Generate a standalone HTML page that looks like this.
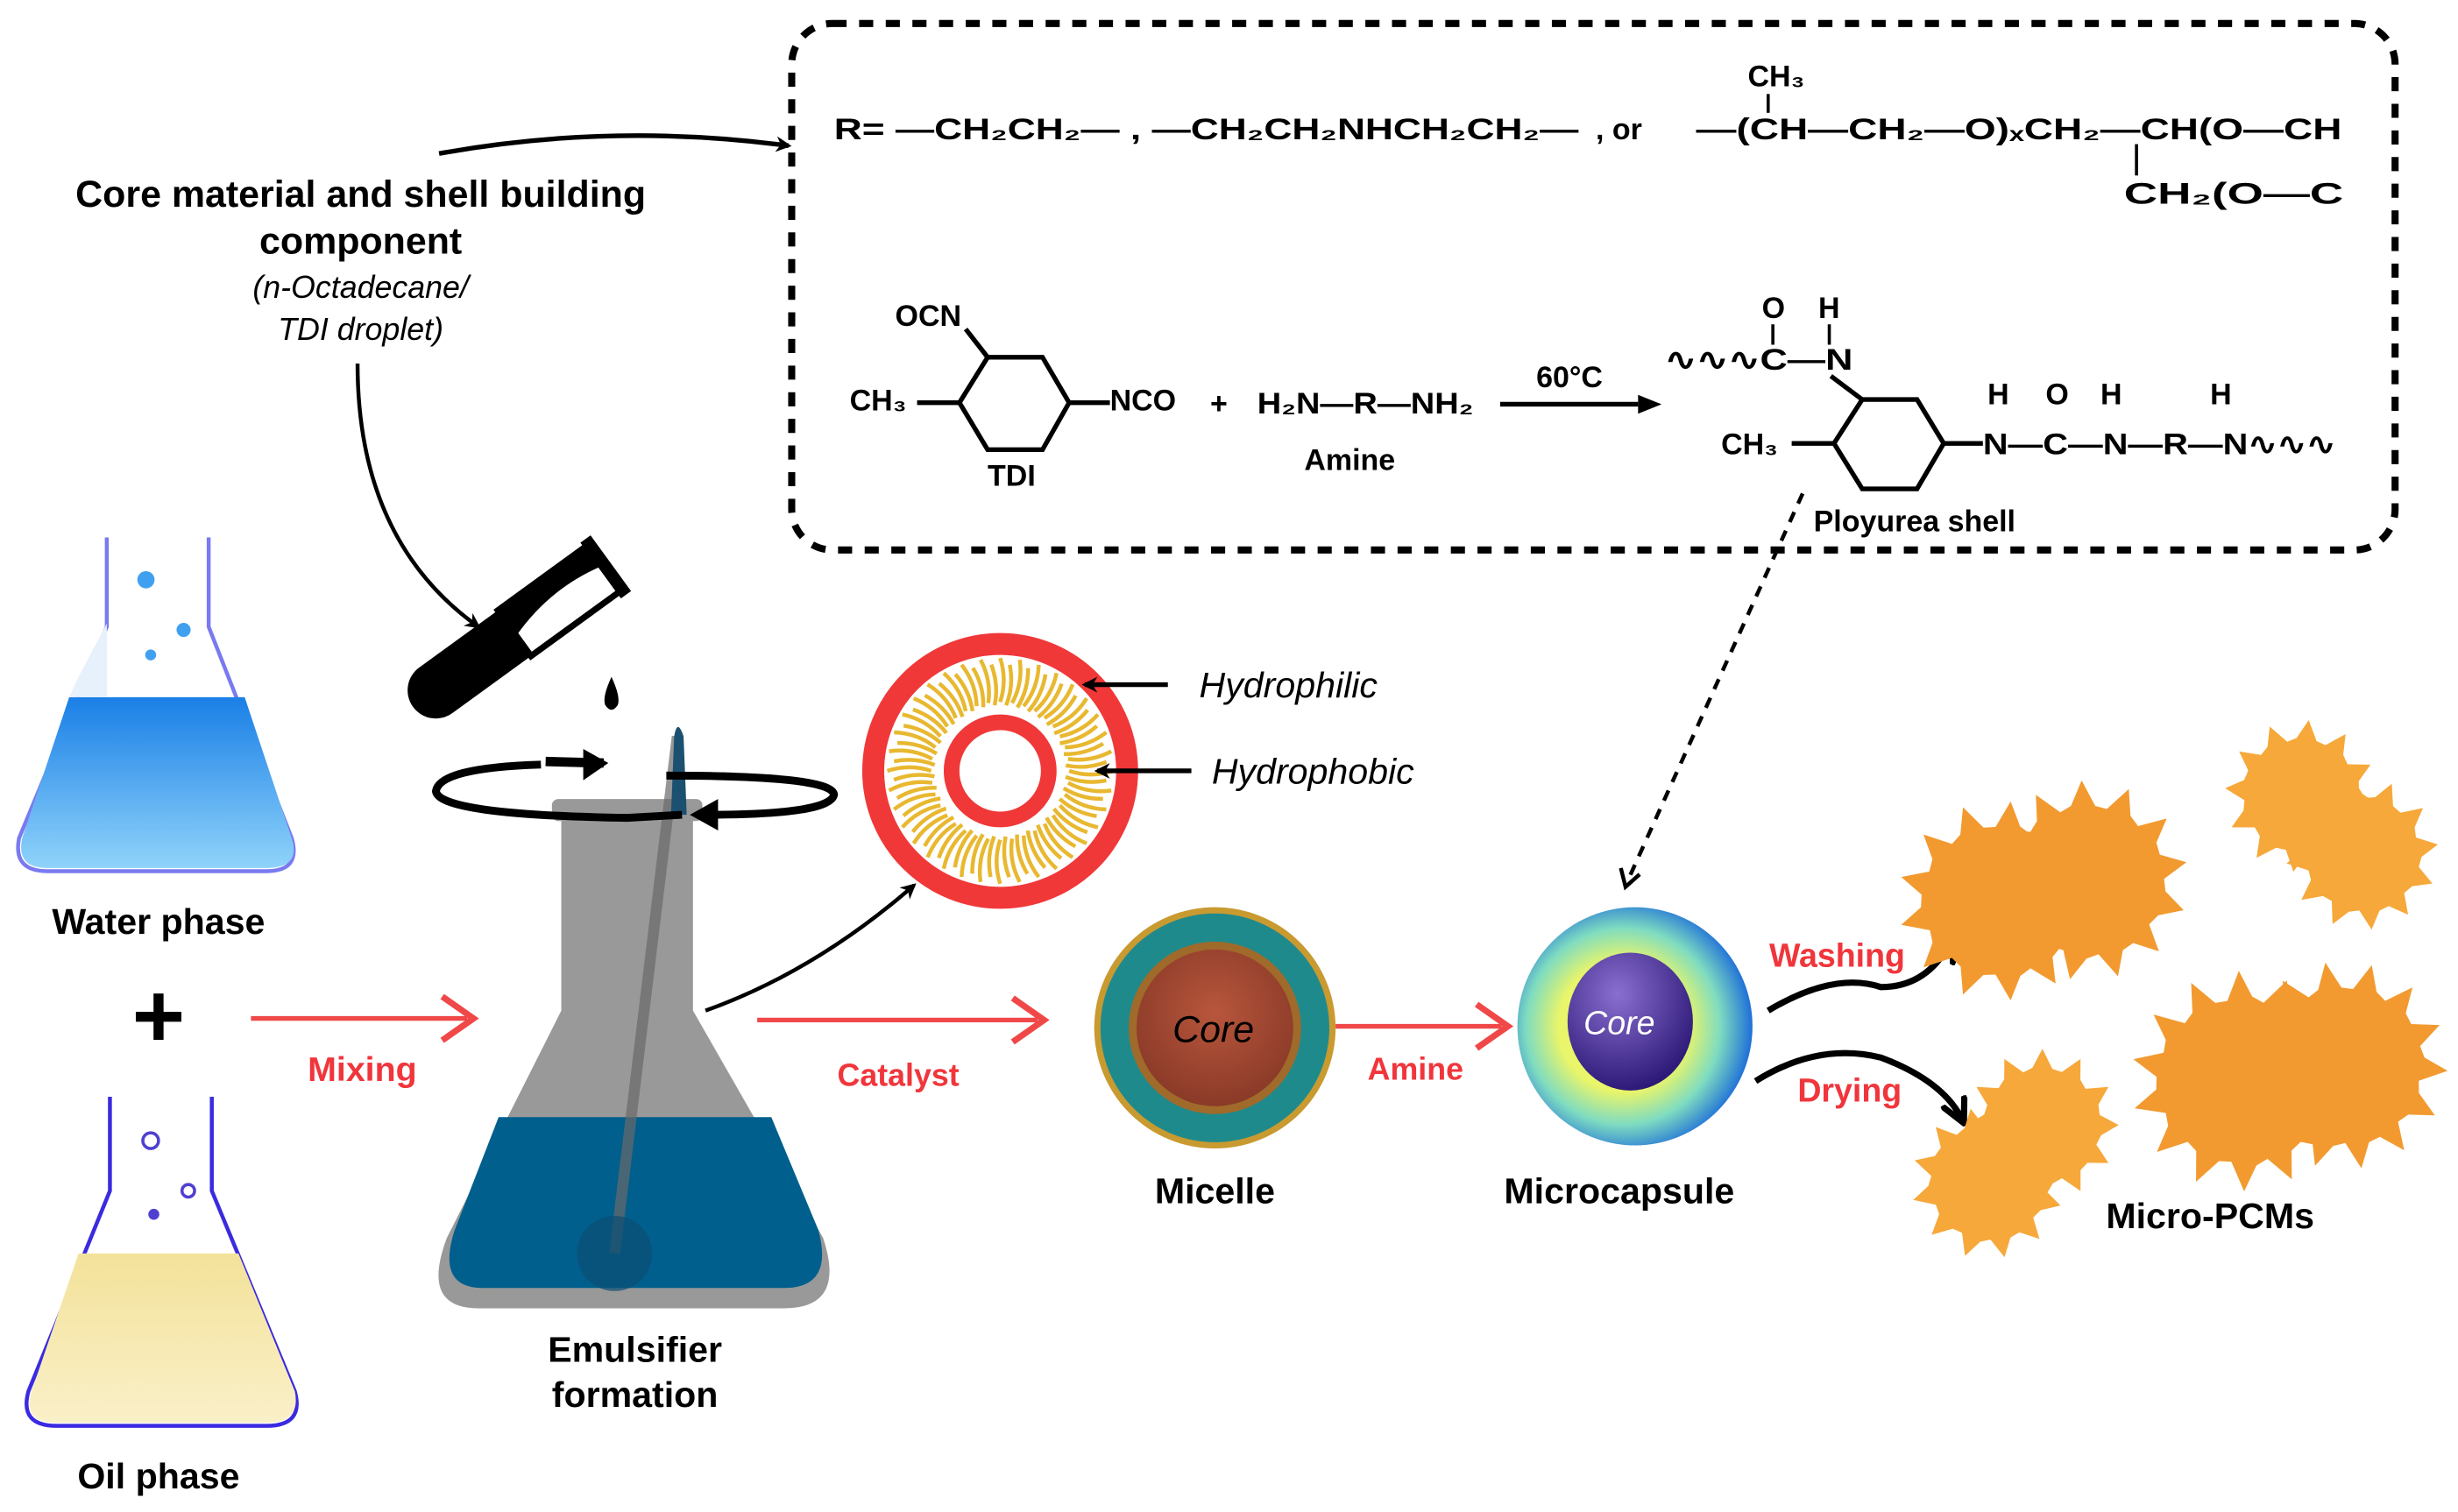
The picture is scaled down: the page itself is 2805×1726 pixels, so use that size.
<!DOCTYPE html>
<html><head><meta charset="utf-8"><style>
html,body{margin:0;padding:0;background:#fff;}
svg{display:block;}
text{font-family:"Liberation Sans",sans-serif;}
.b{font-weight:bold;}
.ch{font-weight:bold;font-size:19px;}
.red{fill:#f0363c;font-weight:bold;}
</style></head><body>
<svg id="s" width="2805" height="1726" viewBox="0 0 1568 965" xmlns="http://www.w3.org/2000/svg">
<defs>
<marker id="ah" markerWidth="10" markerHeight="10" refX="8" refY="5" orient="auto" markerUnits="userSpaceOnUse"><path d="M0,0 L10,5 L0,10 L3,5Z" fill="#000"/></marker>
<marker id="ahb" markerWidth="18" markerHeight="18" refX="14" refY="9" orient="auto" markerUnits="userSpaceOnUse"><path d="M0,1 L16,9 L0,17" fill="none" stroke="#000" stroke-width="4"/></marker>
<linearGradient id="wat" x1="0" y1="0" x2="0" y2="1"><stop offset="0" stop-color="#1a7fe6"/><stop offset="1" stop-color="#8fd3fa"/></linearGradient>
<linearGradient id="oil" x1="0" y1="0" x2="0" y2="1"><stop offset="0" stop-color="#f3e29a"/><stop offset="1" stop-color="#faf0c8"/></linearGradient>
<radialGradient id="mc" cx="0.45" cy="0.5" r="0.55"><stop offset="0.5" stop-color="#e9f56a"/><stop offset="0.75" stop-color="#7fdcc0"/><stop offset="1" stop-color="#1e6fd8"/></radialGradient>
<radialGradient id="pc" cx="0.4" cy="0.3" r="0.7"><stop offset="0" stop-color="#8a6fd0"/><stop offset="1" stop-color="#2e1a78"/></radialGradient>
<radialGradient id="core" cx="0.5" cy="0.4" r="0.6"><stop offset="0" stop-color="#b8563c"/><stop offset="1" stop-color="#8a3a28"/></radialGradient>
</defs>

<rect x="505" y="15" width="1023" height="336" rx="26" fill="none" stroke="#000" stroke-width="4.5" stroke-dasharray="9,8"/>

<text x="532" y="89" class="ch" textLength="475" lengthAdjust="spacingAndGlyphs">R= —CH₂CH₂— , —CH₂CH₂NHCH₂CH₂—</text>
<text x="1018" y="89" class="ch">, or</text>
<text x="1082" y="89" class="ch" textLength="412" lengthAdjust="spacingAndGlyphs">—(CH—CH₂—O)ₓCH₂—CH(O—CH</text>
<text x="1115" y="55" class="ch">CH₃</text>
<line x1="1128" y1="60" x2="1128" y2="72" stroke="#000" stroke-width="2"/>
<line x1="1363" y1="92" x2="1363" y2="112" stroke="#000" stroke-width="2"/>
<text x="1355" y="130" class="ch" textLength="140" lengthAdjust="spacingAndGlyphs">CH₂(O—C</text>
<text x="571" y="208" class="ch">OCN</text>
<text x="542" y="262" class="ch">CH₃</text>
<polygon points="630,228 665,228 682,257 665,287 630,287 612,257" fill="none" stroke="#000" stroke-width="3"/>
<line x1="616" y1="210" x2="630" y2="228" stroke="#000" stroke-width="3"/>
<line x1="585" y1="257" x2="612" y2="257" stroke="#000" stroke-width="3"/>
<line x1="682" y1="257" x2="708" y2="257" stroke="#000" stroke-width="3"/>
<text x="708" y="262" class="ch">NCO</text>
<text x="630" y="310" class="ch">TDI</text>
<text x="772" y="264" class="ch" font-size="22">+</text>
<text x="802" y="264" class="ch" textLength="138" lengthAdjust="spacingAndGlyphs">H₂N—R—NH₂</text>
<text x="832" y="300" class="ch">Amine</text>
<text x="980" y="247" class="ch" font-size="16">60°C</text>
<line x1="957" y1="258" x2="1045" y2="258" stroke="#000" stroke-width="3"/>
<path d="M1045,252 L1060,258 L1045,264Z"/>
<text x="1062" y="236" class="ch" textLength="120" lengthAdjust="spacingAndGlyphs">∿∿∿C—N</text>
<text x="1124" y="203" class="ch">O</text><text x="1160" y="203" class="ch">H</text>
<line x1="1131" y1="207" x2="1131" y2="220" stroke="#000" stroke-width="2"/>
<line x1="1167" y1="207" x2="1167" y2="220" stroke="#000" stroke-width="2"/>
<polygon points="1188,255 1223,255 1240,283 1223,312 1188,312 1170,283" fill="none" stroke="#000" stroke-width="3"/>
<line x1="1168" y1="240" x2="1188" y2="255" stroke="#000" stroke-width="3"/>
<text x="1098" y="290" class="ch">CH₃</text>
<line x1="1143" y1="283" x2="1170" y2="283" stroke="#000" stroke-width="3"/>
<line x1="1240" y1="283" x2="1265" y2="283" stroke="#000" stroke-width="3"/>
<text x="1265" y="290" class="ch" textLength="225" lengthAdjust="spacingAndGlyphs">N—C—N—R—N∿∿∿</text>
<text x="1268" y="258" class="ch">H</text><text x="1305" y="258" class="ch">O</text><text x="1340" y="258" class="ch">H</text><text x="1410" y="258" class="ch">H</text>
<text x="1157" y="339" class="ch" font-size="17">Ployurea shell</text>

<text x="230" y="132" class="b" font-size="24" text-anchor="middle">Core material and shell building</text>
<text x="230" y="162" class="b" font-size="24" text-anchor="middle">component</text>
<text x="230" y="190" font-size="20" font-style="italic" text-anchor="middle">(n-Octadecane/</text>
<text x="230" y="217" font-size="20" font-style="italic" text-anchor="middle">TDI droplet)</text>
<path d="M280,98 Q390,78 503,93" fill="none" stroke="#000" stroke-width="3" marker-end="url(#ah)"/>
<path d="M228,232 Q228,345 305,400" fill="none" stroke="#000" stroke-width="2.5" marker-end="url(#ah)"/>

<g transform="translate(320,410) rotate(-36)">
<rect x="-70" y="-18" width="140" height="36" rx="18" fill="#000"/>
<rect x="10" y="-18" width="70" height="36" fill="#fff" stroke="#000" stroke-width="4"/>
<path d="M10,-18 L80,-18 L80,-2 Q45,-10 10,2Z" fill="#000"/>
<rect x="78" y="-22" width="8" height="44" fill="#000"/>
</g>
<path d="M390,432 Q384,445 386,450 Q390,456 394,450 Q396,445 390,432Z" fill="#000"/>

<path d="M68,343 L68,400 L12,535 Q8,556 30,556 L170,556 Q192,556 186,535 L133,400 L133,343" fill="#fff" stroke="#7a7af0" stroke-width="2.5"/>
<path d="M44,445 L156,445 L186,535 Q192,554 170,554 L30,554 Q10,554 14,535Z" fill="url(#wat)"/>
<path d="M50,432 L68,398 L68,445 L44,445Z" fill="#e6f1fb"/>
<circle cx="93" cy="370" r="5.5" fill="#40a0f0"/><circle cx="117" cy="402" r="4.5" fill="#40a0f0"/><circle cx="96" cy="418" r="3.5" fill="#40a0f0"/>
<text x="101" y="596" class="b" font-size="23" text-anchor="middle">Water phase</text>
<text x="101" y="668" class="b" font-size="58" text-anchor="middle">+</text>
<path d="M70,700 L70,760 L18,888 Q12,910 36,910 L170,910 Q194,910 188,888 L135,760 L135,700" fill="#fff" stroke="#3a2ae0" stroke-width="2.5"/>
<path d="M50,800 L152,800 L188,888 Q192,908 170,908 L36,908 Q14,908 20,888Z" fill="url(#oil)"/>
<circle cx="96" cy="728" r="5" fill="#fff" stroke="#5040d0" stroke-width="2"/><circle cx="120" cy="760" r="4" fill="#fff" stroke="#5040d0" stroke-width="2"/><circle cx="98" cy="775" r="3.5" fill="#5040d0"/>
<text x="101" y="950" class="b" font-size="23" text-anchor="middle">Oil phase</text>

<line x1="160" y1="650" x2="298" y2="650" stroke="#f04848" stroke-width="3"/>
<path d="M282,636 L302,650 L282,664" fill="none" stroke="#f04848" stroke-width="4"/>
<text x="231" y="690" class="red" font-size="22" text-anchor="middle">Mixing</text>

<rect x="352" y="510" width="96" height="14" rx="4" fill="#999"/>
<path d="M358,522 L442,522 L442,645 L525,790 Q540,835 500,835 L305,835 Q268,835 285,790 L358,645Z" fill="#999"/>
<path d="M318,713 L492,713 L522,785 Q532,822 500,822 L308,822 Q278,822 290,785Z" fill="#005f8c"/>
<line x1="432" y1="470" x2="392" y2="800" stroke="#6a6a6a" stroke-width="7" opacity="0.7"/>
<circle cx="392" cy="800" r="24" fill="#0a4f74" opacity="0.7"/>
<path d="M428,520 L430,470 Q432,458 436,470 L438,520Z" fill="#1c5070"/>
<text x="405" y="869" class="b" font-size="23" text-anchor="middle">Emulsifier</text>
<text x="405" y="898" class="b" font-size="23" text-anchor="middle">formation</text>
<path d="M345,488 Q280,490 278,505 Q280,520 400,522 L435,520" fill="none" stroke="#000" stroke-width="5"/>
<path d="M372,478 L388,487 L372,498" fill="#000"/>
<path d="M348,486 L385,487" stroke="#000" stroke-width="6"/>
<path d="M425,495 Q530,495 532,507 Q530,520 450,520" fill="none" stroke="#000" stroke-width="5"/>
<path d="M458,510 L440,520 L458,530" fill="#000"/>
<path d="M450,645 Q520,620 583,565" fill="none" stroke="#000" stroke-width="2.5" marker-end="url(#ah)"/>

<circle cx="638" cy="492" r="81" fill="#fff" stroke="#f03838" stroke-width="14"/>
<g id="tails" stroke="#e8b830" stroke-width="2.5" fill="none"></g>
<circle cx="638" cy="492" r="31" fill="#fff" stroke="#f03838" stroke-width="10"/>
<line x1="745" y1="437" x2="692" y2="437" stroke="#000" stroke-width="3" marker-end="url(#ah)"/>
<text x="765" y="445" font-size="23" font-style="italic">Hydrophilic</text>
<line x1="760" y1="492" x2="700" y2="492" stroke="#000" stroke-width="3" marker-end="url(#ah)"/>
<text x="773" y="500" font-size="23" font-style="italic">Hydrophobic</text>

<line x1="483" y1="651" x2="662" y2="651" stroke="#f04848" stroke-width="3"/>
<path d="M646,637 L666,651 L646,665" fill="none" stroke="#f04848" stroke-width="4"/>
<text x="573" y="693" class="red" font-size="20" text-anchor="middle">Catalyst</text>

<circle cx="775" cy="656" r="77" fill="#c89a30"/>
<circle cx="775" cy="656" r="73" fill="#1f8a8c"/>
<circle cx="775" cy="656" r="55" fill="#a06a2a"/>
<circle cx="775" cy="656" r="50" fill="url(#core)"/>
<text x="774" y="665" font-size="24" font-style="italic" text-anchor="middle">Core</text>
<text x="775" y="768" class="b" font-size="23" text-anchor="middle">Micelle</text>
<line x1="852" y1="655" x2="958" y2="655" stroke="#f04848" stroke-width="3"/>
<path d="M942,641 L962,655 L942,669" fill="none" stroke="#f04848" stroke-width="4"/>
<text x="903" y="689" class="red" font-size="20" text-anchor="middle">Amine</text>

<ellipse cx="1043" cy="655" rx="75" ry="76" fill="url(#mc)"/>
<ellipse cx="1040" cy="652" rx="40" ry="44" fill="url(#pc)"/>
<text x="1033" y="660" font-size="21" font-style="italic" fill="#fff" text-anchor="middle">Core</text>
<text x="1033" y="768" class="b" font-size="23" text-anchor="middle">Microcapsule</text>
<path d="M1150,315 L1038,563" fill="none" stroke="#000" stroke-width="2.5" stroke-dasharray="7,6"/>
<path d="M1034,554 L1037,566 L1046,558" fill="none" stroke="#000" stroke-width="2.5"/>

<path d="M1128,645 Q1170,620 1200,630 Q1230,630 1245,600" fill="none" stroke="#000" stroke-width="4" marker-end="url(#ahb)"/>
<text x="1172" y="617" class="red" font-size="21" text-anchor="middle">Washing</text>
<path d="M1120,690 Q1160,665 1200,675 Q1240,690 1252,715" fill="none" stroke="#000" stroke-width="4" marker-end="url(#ahb)"/>
<text x="1180" y="703" class="red" font-size="21" text-anchor="middle">Drying</text>

<g id="pcms"></g>
<text x="1410" y="784" class="b" font-size="23" text-anchor="middle">Micro-PCMs</text>
</svg>
<script>
var NS="http://www.w3.org/2000/svg";
var t=document.getElementById("tails");
for(var i=0;i<36;i++){var a=i*Math.PI*2/36;
var p=function(r,o){return (638+r*Math.cos(a+o)).toFixed(1)+","+(492+r*Math.sin(a+o)).toFixed(1)};
var e=document.createElementNS(NS,"path");e.setAttribute("d","M"+p(72,0)+" Q"+p(58,0.08)+" "+p(44,0));t.appendChild(e);
var e2=document.createElementNS(NS,"path");e2.setAttribute("d","M"+p(68,0.09)+" Q"+p(55,0.16)+" "+p(42,0.09));t.appendChild(e2);}
var g=document.getElementById("pcms");
function blob(cx,cy,r,n,col,ph){var pts=[];var m=n*3;
for(var i=0;i<m;i++){var a=i*2*Math.PI/m+ph;var rr=(i%3==0)?r*1.28:r*(0.97+0.03*Math.sin(i*1.7));
pts.push((cx+rr*Math.cos(a)).toFixed(1)+","+(cy+rr*Math.sin(a)).toFixed(1));}
var p=document.createElementNS(NS,"polygon");p.setAttribute("points",pts.join(" "));p.setAttribute("fill",col);g.appendChild(p);}
blob(1275,575,50,13,"#f29a30",0);blob(1332,562,50,13,"#f29a30",0.3);
blob(1468,508,38,12,"#f6a83a",0.1);blob(1507,545,38,12,"#f6a83a",0.4);
blob(1430,690,55,14,"#f29a30",0.2);blob(1495,680,52,14,"#f29a30",0.5);
blob(1268,755,38,12,"#f6a83a",0.3);blob(1303,718,38,12,"#f6a83a",0);
</script>
</body></html>
